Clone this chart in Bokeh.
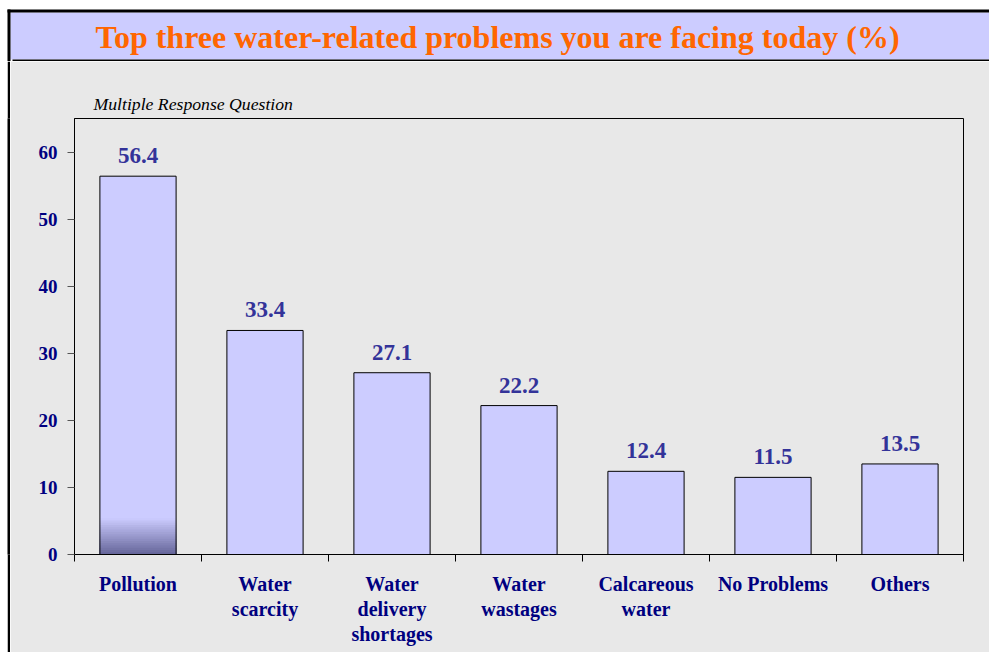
from bokeh.plotting import figure
from bokeh.layouts import column, row
from bokeh.models import Range1d, FixedTicker, ColumnDataSource, Title
from bokeh.core.properties import value
from bokeh.embed import file_html
from bokeh.resources import INLINE

# ---- data ----
categories = ["Pollution", "Water\nscarcity", "Water\ndelivery\nshortages",
              "Water\nwastages", "Calcareous\nwater", "No Problems", "Others"]
percentages = [56.4, 33.4, 27.1, 22.2, 12.4, 11.5, 13.5]
y_ticks = [0, 10, 20, 30, 40, 50, 60]
title_text = "Top three water-related problems you are facing today (%)"
subtitle_text = "Multiple Response Question"

SERIF = "Liberation Serif"
BG = "#E8E8E8"
BAR = "#CCCCFF"
TOTAL_W, TOTAL_H = 989, 652
HEAD_H = 61
STRIP_GAP = 7
STRIP_W = 3
MAIN_W = TOTAL_W - STRIP_GAP - STRIP_W
MAIN_H = TOTAL_H - HEAD_H


def bare_figure(w, h, xr, yr, fill):
    f = figure(width=w, height=h, output_backend="svg", toolbar_location=None,
               x_range=xr, y_range=yr, x_axis_location=None, y_axis_location=None,
               min_border=0, min_border_left=0, min_border_right=0,
               min_border_top=0, min_border_bottom=0)
    f.background_fill_color = fill
    f.border_fill_color = fill
    f.outline_line_color = None
    f.xgrid.visible = False
    f.ygrid.visible = False
    return f


# ---------------- header (title band) ----------------
head = bare_figure(TOTAL_W, HEAD_H, Range1d(0, TOTAL_W), Range1d(HEAD_H, 0), "white")
head.quad(left=[10], right=[TOTAL_W], top=[12], bottom=[59],
          fill_color=BAR, line_color=None)
head.quad(left=[7, 7, 12], right=[10, TOTAL_W, TOTAL_W], top=[9, 9, 59], bottom=[HEAD_H, 12, 61],
          fill_color="black", line_color=None)
head.text(x=[497], y=[36], text=[title_text], text_align="center", text_baseline="middle",
          text_font=value(SERIF), text_font_style="bold", text_font_size="32px",
          text_color="#FF6600")

# ---------------- left strip (outer border) ----------------
strip = bare_figure(STRIP_W, MAIN_H, Range1d(0, 1), Range1d(0, 1), "black")
strip.margin = (0, 0, 0, STRIP_GAP)

# ---------------- main chart ----------------
x_centers = [i + 0.5 for i in range(len(categories))]
src = ColumnDataSource(dict(x=x_centers, top=percentages,
                            label=[f"{v:.1f}" for v in percentages]))

p = figure(width=MAIN_W, height=MAIN_H, output_backend="svg", toolbar_location=None,
           x_range=Range1d(0, len(categories)), y_range=Range1d(0, 65),
           min_border_left=64, min_border_right=26, min_border_top=57,
           min_border_bottom=98)
p.background_fill_color = BG
p.border_fill_color = BG
p.outline_line_color = "black"
p.outline_line_width = 1
p.xgrid.visible = False
p.ygrid.visible = False

p.add_layout(Title(text=subtitle_text, align="left", offset=19, standoff=10,
                   text_font=SERIF, text_font_style="italic", text_font_size="17.7px",
                   text_color="black"), "above")

# bars
p.vbar(x="x", top="top", bottom=0, width=0.6, source=src,
       fill_color=BAR, line_color=None)

# darker shading at the foot of the first bar (as in the original)
n_steps = 16
shade_h = 5.4
c_dark = (0x64, 0x64, 0x98)
c_light = (0xCC, 0xCC, 0xFF)
sl, sr, st, sc = [], [], [], []
for k in range(n_steps):
    top_k = shade_h * (n_steps - k) / n_steps
    t = (n_steps - k - 0.5) / n_steps
    col = "#%02x%02x%02x" % tuple(int(round(d + (l - d) * t)) for d, l in zip(c_dark, c_light))
    sl.append(x_centers[0] - 0.3)
    sr.append(x_centers[0] + 0.3)
    st.append(top_k)
    sc.append(col)
p.quad(left=sl, right=sr, bottom=0, top=st, fill_color=sc, line_color=None)

p.vbar(x="x", top="top", bottom=0, width=0.6, source=src,
       fill_color=None, line_color="black", line_width=1)

# value labels
p.text(x="x", y="top", text="label", source=src, text_align="center",
       text_baseline="bottom", y_offset=-13,
       text_font=value(SERIF), text_font_style="bold",
       text_font_size="23px", text_color="#333399")

# x axis: labels centred, ticks at category boundaries
xa = p.xaxis[0]
xa.ticker = FixedTicker(ticks=x_centers, minor_ticks=list(range(len(categories) + 1)))
xa.major_label_overrides = {x: c for x, c in zip(x_centers, categories)}
xa.major_tick_out = 0
xa.major_tick_in = 0
xa.minor_tick_out = 7
xa.minor_tick_in = 0
xa.minor_tick_line_color = "black"
xa.axis_line_color = "black"
xa.major_label_standoff = 11
xa.major_label_text_font = SERIF
xa.major_label_text_font_style = "bold"
xa.major_label_text_font_size = "20px"
xa.major_label_text_color = "#000080"
xa.major_label_text_line_height = 1.15

# y axis
ya = p.yaxis[0]
ya.ticker = FixedTicker(ticks=y_ticks, minor_ticks=[])
ya.major_tick_out = 7
ya.major_tick_in = 0
ya.major_tick_line_color = "#555555"
ya.axis_line_color = "black"
ya.major_label_standoff = 10
ya.major_label_text_font = SERIF
ya.major_label_text_font_style = "bold"
ya.major_label_text_font_size = "19px"
ya.major_label_text_color = "#000080"

layout = column(head, row(strip, p, spacing=0), spacing=0)
open("out.html", "w").write(file_html(layout, INLINE))
